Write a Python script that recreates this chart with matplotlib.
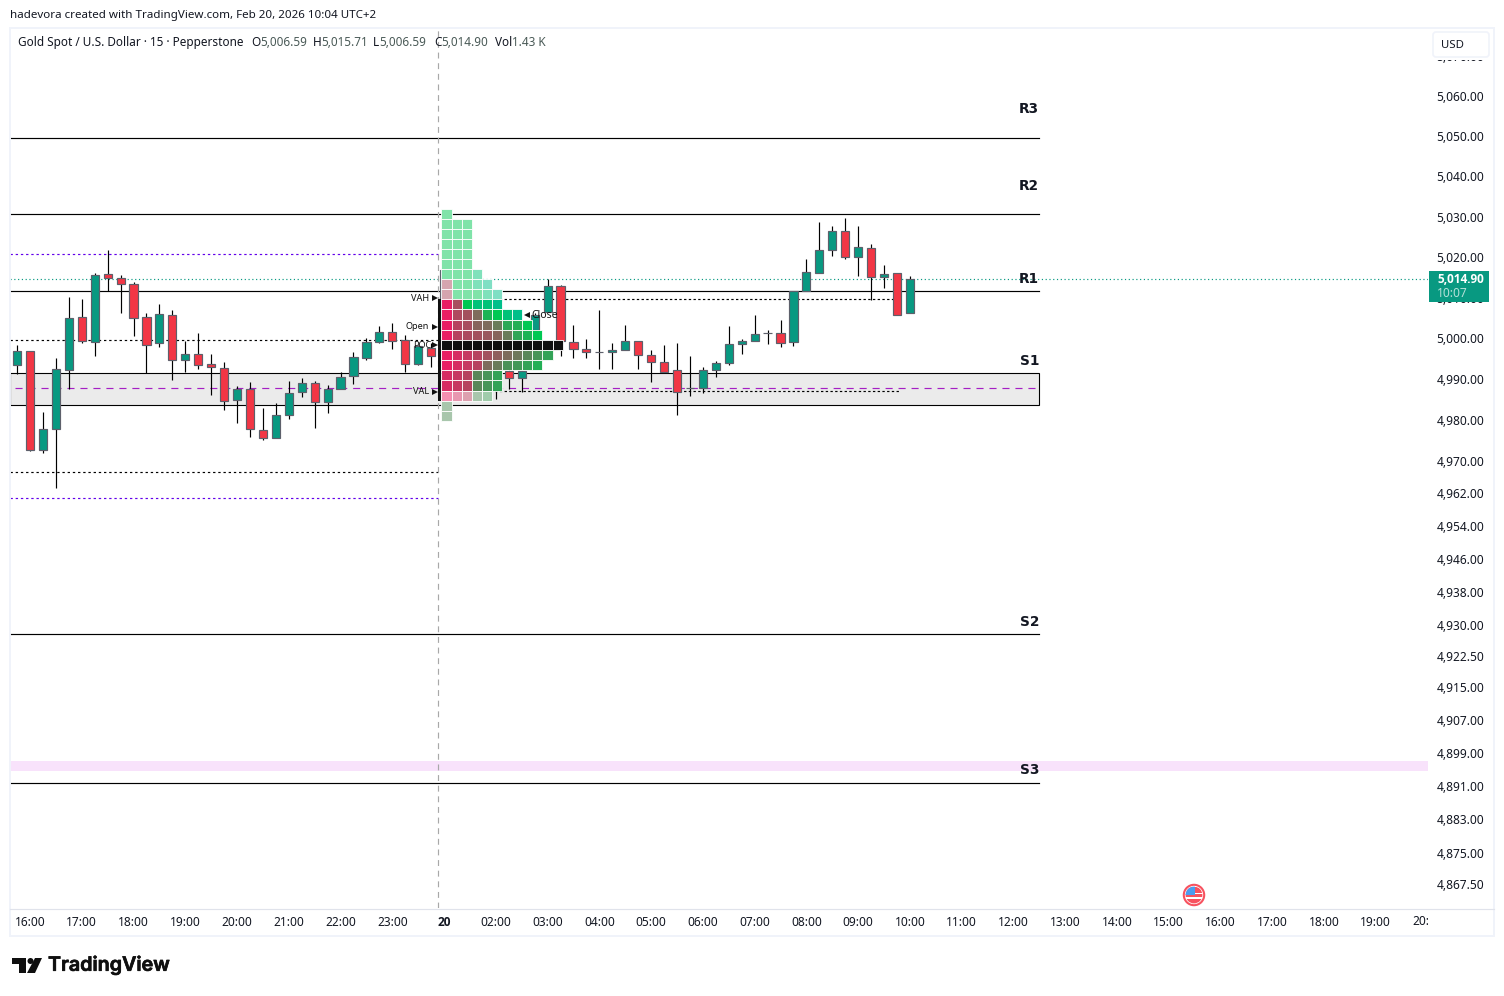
import matplotlib
matplotlib.use("Agg")
import matplotlib.pyplot as plt
import matplotlib.patheffects as pe
from matplotlib.patches import Rectangle, Circle, Polygon, FancyBboxPatch
from matplotlib.ticker import NullLocator
from matplotlib.colors import to_rgb
from matplotlib.transforms import Affine2D, Bbox, IdentityTransform, TransformedBbox

plt.rcParams["font.family"] = ["Noto Sans", "DejaVu Sans"]

# Bars are indexed by 15-minute steps from the 16:00 candle
bar_index = list(range(-1, 69))
opens = [4993.6, 4997.2, 4972.8, 4978.0, 4992.4, 5005.5, 4999.3, 5016.1, 5015.0, 5013.7, 5005.5, 4999.1, 5006.0,
         4994.9, 4996.4, 4994.0, 4993.0, 4985.0, 4987.8, 4977.7, 4975.7, 4981.3, 4987.0, 4989.3, 4984.5, 4987.7,
         4991.0, 4995.4, 4999.3, 5001.8, 4999.9, 4993.9, 4997.9,
         5002.0, 5017.0, 5008.0, 4994.0, 4998.0,
         4992.3, 4990.4, 5002.4, 5006.8, 5013.2, 4999.4, 4997.7, 4996.9, 4996.8, 4997.3, 4999.6, 4996.2, 4994.5,
         4992.5, 4988.1, 4988.0, 4992.4, 4994.1, 4998.9, 4999.5, 5001.6, 5001.6, 4999.3, 5011.9, 5016.3, 5022.0,
         5026.7, 5020.2, 5022.5, 5015.3, 5016.4, 5006.59]
highs = [4998.5, 4997.2, 4982.2, 4995.3, 5010.5, 5010.0, 5016.4, 5022.1, 5015.9, 5014.1, 5006.4, 5008.8, 5007.1,
         4999.5, 5001.6, 4996.3, 4994.5, 4988.6, 4989.4, 4983.1, 4984.4, 4989.8, 4990.4, 4989.8, 4988.8, 4991.9,
         4996.9, 5000.4, 5003.2, 5004.1, 5001.1, 4998.7, 4999.1,
         5031.5, 5027.0, 5012.0, 5001.0, 5008.8,
         4993.0, 4992.5, 5006.5, 5014.9, 5013.4, 5003.6, 5000.2, 5007.3, 4999.1, 5003.6, 4999.6, 4997.3, 4998.5,
         4999.1, 4996.0, 4993.2, 4994.7, 5003.2, 5000.2, 5005.9, 5002.4, 5004.8, 5011.9, 5019.8, 5029.0, 5028.0,
         5029.9, 5028.0, 5023.6, 5018.2, 5016.4, 5015.71]
lows = [4991.4, 4972.5, 4972.2, 4963.6, 4987.7, 4999.0, 4996.0, 5011.9, 5006.6, 5000.9, 4991.7, 4998.0, 4990.1,
        4992.0, 4992.6, 4986.4, 4982.7, 4979.5, 4976.1, 4975.4, 4975.7, 4980.5, 4985.9, 4978.3, 4982.0, 4987.7,
        4989.1, 4994.8, 4999.1, 4997.7, 4992.0, 4993.6, 4993.1,
        4981.0, 4990.0, 4989.0, 4985.6, 4985.4,
        4987.9, 4987.0, 5002.0, 5006.8, 4995.9, 4995.3, 4995.5, 4992.6, 4992.8, 4997.3, 4992.8, 4989.6, 4992.0,
        4981.5, 4986.0, 4986.7, 4990.7, 4993.6, 4996.4, 4999.5, 4998.8, 4998.0, 4998.3, 5011.9, 5016.3, 5020.5,
        5019.9, 5015.5, 5009.6, 5012.6, 5005.9, 5006.59]
closes = [4997.2, 4972.8, 4978.0, 4992.7, 5005.3, 4999.5, 5015.9, 5015.1, 5013.6, 5005.3, 4998.6, 5006.3, 4994.9,
          4996.4, 4993.6, 4993.2, 4984.8, 4987.8, 4977.9, 4975.7, 4981.4, 4986.8, 4989.3, 4984.5, 4987.8, 4990.8,
          4995.7, 4999.4, 5001.8, 4999.5, 4993.9, 4998.3, 4995.9,
          5017.0, 5008.0, 4994.0, 4998.0, 5005.0,
          4990.4, 4992.3, 5006.1, 5013.2, 4999.5, 4997.6, 4996.8, 4996.9, 4997.4, 4999.6, 4996.1, 4994.4, 4992.0,
          4987.1, 4988.1, 4992.5, 4994.2, 4998.9, 4999.6, 5001.4, 5001.6, 4999.1, 5011.9, 5016.6, 5022.0, 5026.7,
          5020.2, 5022.8, 5015.3, 5016.1, 5005.9, 5014.90]

# Price axis
price_ticks = [5070, 5060, 5050, 5040, 5030, 5020, 5010, 5000, 4990, 4980, 4970, 4962, 4954, 4946, 4938, 4930,
               4922.5, 4915, 4907, 4899, 4891, 4883, 4875, 4867.5]
price_labels = ["5,070.00", "5,060.00", "5,050.00", "5,040.00", "5,030.00", "5,020.00", "5,010.00", "5,000.00",
                "4,990.00", "4,980.00", "4,970.00", "4,962.00", "4,954.00", "4,946.00", "4,938.00", "4,930.00",
                "4,922.50", "4,915.00", "4,907.00", "4,899.00", "4,891.00", "4,883.00", "4,875.00", "4,867.50"]

# Time axis
time_ticks = [0, 4, 8, 12, 16, 20, 24, 28, 32, 36, 40, 44, 48, 52, 56, 60, 64, 68, 72, 76, 80, 84, 88, 92, 96, 100, 104]
time_labels = ["16:00", "17:00", "18:00", "19:00", "20:00", "21:00", "22:00", "23:00", "20", "02:00", "03:00",
               "04:00", "05:00", "06:00", "07:00", "08:00", "09:00", "10:00", "11:00", "12:00", "13:00", "14:00",
               "15:00", "16:00", "17:00", "18:00", "19:00"]
clipped_tick = 108
clipped_label = "20:00"

# Pivot levels
pivot_names = ["R3", "R2", "R1", "S2", "S3"]
pivot_prices = [5049.7, 5030.95, 5011.8, 4927.9, 4891.9]
pivot_label_prices = [5057.0, 5037.8, 5014.8, 4931.0, 4895.1]
s1_zone = (4983.9, 4991.7)
s1_label_price = 4994.6
s3_band = (4894.9, 4897.3)
prior_open = 4999.9
prior_close = 4967.4
prior_high = 5021.0
prior_low = 4961.0
mid_level = 4988.1
vah = 5010.0
val = 4987.3
poc = 4998.6
session_open = 5003.1
last_close = 5014.90

# Session volume profile: top edge of every row, and the bullish share of each cell
profile_edges = [5032.2, 5029.7, 5027.3, 5024.7, 5022.3, 5019.8, 5017.3, 5014.9, 5012.4, 5010.0, 5007.5,
                 5004.8, 5002.3, 4999.9, 4997.3, 4994.9, 4992.4, 4989.9, 4987.2, 4984.8, 4982.3, 4980.0]
profile_share = [
    [1.0],
    [1.0, 1.0, 1.0],
    [1.0, 1.0, 1.0],
    [1.0, 1.0, 1.0],
    [1.0, 1.0, 1.0],
    [1.0, 1.0, 1.0],
    [1.0, 1.0, 1.0, 1.2],
    [0.27, 1.0, 1.0, 1.2, 1.3],
    [0.27, 1.0, 1.0, 1.0, 1.2, 1.3],
    [0.0, 0.28, 1.0, 1.2, 1.2, 1.3],
    [0.0, 0.25, 0.3, 0.46, 0.88, 1.0, 1.2, 1.3],
    [0.0, 0.22, 0.28, 0.42, 0.46, 0.55, 0.82, 0.85, 1.0],
    [0.0, 0.22, 0.26, 0.3, 0.34, 0.42, 0.55, 0.8, 0.88, 1.0],
    [None] * 12,
    [0.0, 0.08, 0.15, 0.22, 0.3, 0.38, 0.46, 0.53, 0.62, 0.7, 0.78],
    [0.0, 0.08, 0.15, 0.22, 0.46, 0.55, 0.68, 0.72, 0.78, 0.85],
    [0.08, 0.15, 0.22, 0.62, 0.7, 0.78],
    [0.08, 0.15, 0.22, 0.62, 0.7, 0.78],
    [0.0, 0.1, 0.2, 0.65, 0.72],
    [0.65],
    [0.65],
]
value_area_rows = range(9, 18)

UP = "#089981"
DOWN = "#f23645"
BORDER = "#5d606b"
INK = "#131722"
BEAR_RGB = to_rgb("#e91e63")
BULL_RGB = to_rgb("#00c853")
TEAL_RGB = to_rgb("#00bf8a")

W, H = 1504, 996
fig = plt.figure(figsize=(W / 100, H / 100), dpi=100, facecolor="white")
ax = fig.add_axes([10 / W, 1 - 908 / H, 1418 / W, 880 / H], facecolor="white")
ax.set_yscale("log")
X_LEFT, X_RIGHT = -1.546, 108.04
ax.set_xlim(X_LEFT, X_RIGHT)
ax.set_ylim(4862.0, 5077.2)
ax.set_yticks(price_ticks, price_labels)
ax.yaxis.set_minor_locator(NullLocator())
ax.yaxis.tick_right()
ax.set_xticks(time_ticks, time_labels)
ax.tick_params(axis="both", length=0, labelsize=8.6, labelcolor=INK)
ax.tick_params(axis="y", pad=6.2)
ax.tick_params(axis="x", pad=5.4)
for side in ax.spines.values():
    side.set_visible(False)
for lab in ax.get_yticklabels():
    lab.set_verticalalignment("center_baseline")
    lab.set_transform(lab.get_transform() + Affine2D().translate(0, 1))
ax.get_xticklabels()[8].set_fontfamily("Open Sans")
ax.get_xticklabels()[8].set_fontweight("bold")

LEVEL_END = 77.98
SESSION_X = 31.53
VA_END = 67.2


def hline(price, x0, x1, **kw):
    ax.plot([x0, x1], [price, price], **kw)


# Background zones
ax.add_patch(Rectangle((X_LEFT, s3_band[0]), X_RIGHT - X_LEFT, s3_band[1] - s3_band[0],
                       facecolor="#f8e2fb", edgecolor="none", zorder=1))
ax.add_patch(Rectangle((X_LEFT, s1_zone[0]), LEVEL_END - X_LEFT, s1_zone[1] - s1_zone[0],
                       facecolor="#ebebeb", edgecolor="black", linewidth=0.8, zorder=1.5))

# Pivot lines and their names
for name, level, label_y in zip(pivot_names, pivot_prices, pivot_label_prices):
    hline(level, X_LEFT, LEVEL_END, color="black", lw=0.85, zorder=2)
    ax.text(LEVEL_END, label_y, name, ha="right", va="center", fontsize=9.8,
            fontweight="bold", family="DejaVu Sans", color=INK, zorder=7)
ax.text(LEVEL_END, s1_label_price, "S1", ha="right", va="center", fontsize=9.8,
        fontweight="bold", family="DejaVu Sans", color=INK, zorder=7)

# Prior-session and session reference lines
hline(prior_open, X_LEFT, SESSION_X, color="black", lw=0.85, ls=(0, (2, 2.4)), zorder=2)
hline(prior_close, X_LEFT, SESSION_X, color="black", lw=0.85, ls=(0, (2, 2.4)), zorder=2)
hline(prior_high, X_LEFT, SESSION_X, color="#6200ea", lw=0.85, ls=(0, (2, 2.4)), zorder=2)
hline(prior_low, X_LEFT, SESSION_X, color="#6200ea", lw=0.85, ls=(0, (2, 2.4)), zorder=2)
hline(mid_level, -1.15, LEVEL_END, color="#a51fc4", lw=0.85, ls=(0, (6, 5)), zorder=2)
hline(vah, SESSION_X, VA_END, color="black", lw=0.85, ls=(0, (2, 2)), zorder=2)
hline(val, SESSION_X, VA_END, color="black", lw=0.85, ls=(0, (2, 2)), zorder=2)
hline(last_close, X_LEFT, X_RIGHT, color=UP, lw=0.85, ls=(0, (1, 2.2)), zorder=2)

# Session divider
ax.axvline(SESSION_X, color="#a8a8a8", lw=0.85, ls=(0, (5, 4)), zorder=2.5)

# Candles
for i, o, h, l, c in zip(bar_index, opens, highs, lows, closes):
    ax.plot([i, i], [l, h], color="black", lw=0.85, zorder=3, solid_capstyle="butt")
    top, bottom = max(o, c), min(o, c)
    ax.bar(i, top - bottom, 0.63, bottom=bottom, color=UP if c >= o else DOWN,
           edgecolor=BORDER, linewidth=0.85, zorder=3.2)

# Volume profile, drawn over the opening candles
CELL = 0.78
PROFILE_X = 31.8
for row, shares in enumerate(profile_share):
    hi, lo = profile_edges[row], profile_edges[row + 1]
    for k, t in enumerate(shares):
        if t is None:
            rgb = (0.06, 0.06, 0.06)
        elif t <= 1:
            rgb = tuple(b + (g - b) * t for b, g in zip(BEAR_RGB, BULL_RGB))
        else:
            rgb = tuple(g + (e - g) * (t - 1) / 0.3 for g, e in zip(BULL_RGB, TEAL_RGB))
        if row not in value_area_rows:
            rgb = tuple(0.5 * v + 0.5 for v in rgb)
        ax.add_patch(Rectangle((PROFILE_X + k * CELL, lo), CELL, hi - lo, facecolor=rgb,
                               edgecolor="white", linewidth=0.6, zorder=4))

# Value-area bar on the left edge of the profile
ax.add_patch(Rectangle((SESSION_X, val - 2.4), 0.24, vah - val + 2.4, facecolor="#111111",
                       edgecolor="none", zorder=4.5))

# Profile annotations
for text, price, xpos in [("VAH", vah + 0.1, 30.85), ("Open", session_open, 30.85),
                          ("POC", poc, 31.05), ("VAL", val - 0.2, 30.85)]:
    ax.text(xpos, price, text, ha="right", va="center", fontsize=6.6, color="#111111", zorder=6)
    ax.plot([31.3], [price], marker=">", ms=4, color="#111111", mew=0, zorder=6)
ax.plot([38.4], [vah - 4.1], marker="<", ms=4, color="#111111", mew=0, zorder=6)
ax.text(38.75, vah - 4.1, "Close", ha="left", va="center", fontsize=7.5, color="#111111", zorder=6)

# Page furniture, placed in pixel coordinates
px = fig.add_axes([0, 0, 1, 1], facecolor="none", zorder=5)
px.set_xlim(0, W)
px.set_ylim(H, 0)
px.axis("off")

px.add_patch(Rectangle((10, 27.5), 1484, 908.5, fill=False, edgecolor="#f0f3fa", linewidth=1.4))
px.plot([10, 1494], [908.5, 908.5], color="#e0e3eb", lw=0.85)
px.add_patch(Rectangle((1430, 29), 62, 31, facecolor="white", edgecolor="none"))
px.add_patch(FancyBboxPatch((1433, 32), 56, 25, boxstyle="round,pad=0,rounding_size=3",
                            facecolor="white", edgecolor="#f0f3fa", linewidth=1.2))
px.text(1441, 45, "USD", ha="left", va="center", fontsize=8.2, color=INK)

# Last-price tag
px.add_patch(Rectangle((1429, 271), 60, 31, facecolor=UP, edgecolor="none"))
px.text(1437, 279.5, "5,014.90", ha="left", va="center", fontsize=8.5, color="white", fontweight="bold",
        family="Open Sans")
px.text(1437, 293, "10:07", ha="left", va="center", fontsize=8.6, color="#b5e0d8")

# Header and legend
px.text(10, 15.5, "hadevora created with TradingView.com, Feb 20, 2026 10:04 UTC+2", ha="left", va="center",
        fontsize=8.33, color=INK)
px.text(18, 42, "Gold Spot / U.S. Dollar · 15 · Pepperstone", ha="left", va="center", fontsize=8.48, color=INK)
legend_items = [(251, "O", "5,006.59"), (313, "H", "5,015.71"), (373, "L", "5,006.59"),
                (434, "C", "5,014.90"), (495, "Vol", "1.43 K")]
for x, key, value in legend_items:
    t = px.text(x, 42, key, ha="left", va="center", fontsize=8.48, color=INK)
    px.annotate(value, xy=(1, 0.5), xycoords=t, ha="left", va="center", fontsize=8.48, color="#4a5a57")

# Partly hidden last label on the time axis
window = TransformedBbox(Bbox([[0, 0], [1428, 996]]), IdentityTransform())
last = ax.text(clipped_tick, -0.0159, clipped_label, transform=ax.get_xaxis_transform(), ha="center",
               va="center", fontsize=8.6, color=INK, clip_on=True)
last.set_clip_box(window)

# Economic calendar marker
ring = Circle((1194, 895), 10.2, facecolor="white", edgecolor="#f7525f", linewidth=1.5)
px.add_patch(ring)
clip = Circle((1194, 895), 8.4, transform=px.transData)
for y0, h0, colour in [(887, 3, "#f7525f"), (890, 3, "#f7525f"), (894, 3, "#f7525f"), (899, 5, "#f7525f")]:
    stripe = Rectangle((1185, y0), 18, h0, facecolor=colour, edgecolor="none")
    px.add_patch(stripe)
    stripe.set_clip_path(clip)
canton = Rectangle((1185, 886), 10, 9, facecolor="#4a9cf0", edgecolor="none")
px.add_patch(canton)
canton.set_clip_path(clip)

# Wordmark
px.add_patch(Polygon([(12, 958), (26, 958), (26, 973), (19, 973), (19, 964), (12, 964)], facecolor="#0f0f0f", edgecolor="none"))
px.add_patch(Circle((30.5, 961), 3, facecolor="#0f0f0f", edgecolor="none"))
px.add_patch(Polygon([(35, 958), (42, 958), (35, 973), (27, 973)], facecolor="#0f0f0f", edgecolor="none"))
px.text(48, 965.5, "TradingView", ha="left", va="center", fontsize=14.2, fontweight="semibold",
        family="Inter", color="#0f0f0f", path_effects=[pe.withStroke(linewidth=0.5, foreground="#0f0f0f")])

fig.savefig("out.png", dpi=100)
